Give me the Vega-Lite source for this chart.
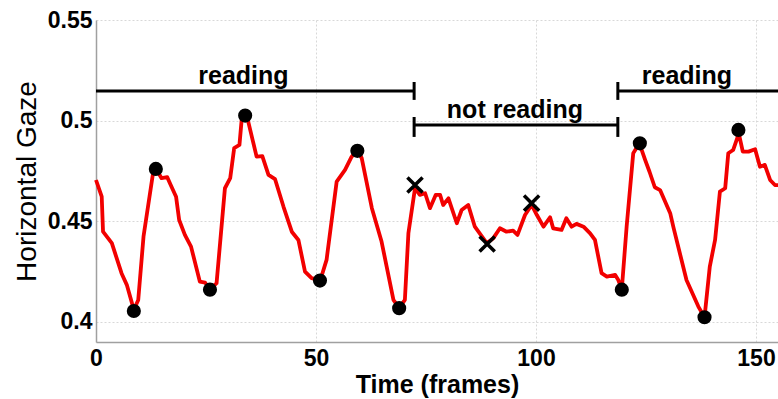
{
  "$schema": "https://vega.github.io/schema/vega-lite/v6.json",
  "width": 682,
  "height": 322,
  "autosize": {"type": "none"},
  "padding": {"left": 96, "top": 20, "right": 0, "bottom": 57},
  "background": "white",
  "config": {
    "font": "Liberation Sans",
    "view": {"stroke": null},
    "axis": {
      "domainColor": "#a0a0a0",
      "domainWidth": 1.5,
      "gridColor": "#d8d8d8",
      "gridDash": [2, 2],
      "gridWidth": 1,
      "ticks": false,
      "labelFont": "Liberation Sans",
      "labelFontWeight": "bold",
      "labelFontSize": 23,
      "labelColor": "#000",
      "titleFont": "Liberation Sans",
      "titleColor": "#000"
    }
  },
  "datasets": {
    "gaze": [
      {"f": 0, "v": 0.4705}, {"f": 1.3, "v": 0.4622}, {"f": 1.6, "v": 0.4448}, {"f": 3.6, "v": 0.4391},
      {"f": 5.8, "v": 0.4242}, {"f": 7.0, "v": 0.4184}, {"f": 8.6, "v": 0.406}, {"f": 9.6, "v": 0.4109},
      {"f": 10.8, "v": 0.4424}, {"f": 12.9, "v": 0.473}, {"f": 13.8, "v": 0.4755}, {"f": 14.9, "v": 0.4714},
      {"f": 16.2, "v": 0.4719}, {"f": 16.8, "v": 0.4689}, {"f": 18.2, "v": 0.4622}, {"f": 18.9, "v": 0.4506},
      {"f": 20.2, "v": 0.4432}, {"f": 21.6, "v": 0.4374}, {"f": 23.6, "v": 0.42}, {"f": 24.8, "v": 0.4195},
      {"f": 25.8, "v": 0.4159}, {"f": 27.4, "v": 0.4192}, {"f": 29.3, "v": 0.4664}, {"f": 30.5, "v": 0.4714},
      {"f": 31.4, "v": 0.4863}, {"f": 32.6, "v": 0.4879}, {"f": 33.1, "v": 0.5003}, {"f": 33.8, "v": 0.5028},
      {"f": 34.6, "v": 0.4995}, {"f": 36.5, "v": 0.4821}, {"f": 37.8, "v": 0.4824}, {"f": 39.2, "v": 0.473},
      {"f": 40.7, "v": 0.4709}, {"f": 42.6, "v": 0.4573}, {"f": 44.5, "v": 0.4448}, {"f": 46.0, "v": 0.4407},
      {"f": 47.5, "v": 0.425}, {"f": 49.0, "v": 0.4217}, {"f": 51.0, "v": 0.4208}, {"f": 52.4, "v": 0.4308},
      {"f": 54.7, "v": 0.4697}, {"f": 56.6, "v": 0.4755}, {"f": 58.1, "v": 0.4821}, {"f": 59.4, "v": 0.4854},
      {"f": 60.4, "v": 0.4813}, {"f": 62.7, "v": 0.4565}, {"f": 64.9, "v": 0.4399}, {"f": 67.6, "v": 0.4109},
      {"f": 68.9, "v": 0.4068}, {"f": 70.2, "v": 0.4109}, {"f": 71.0, "v": 0.444}, {"f": 72.5, "v": 0.4664},
      {"f": 73.6, "v": 0.4631}, {"f": 74.8, "v": 0.4639}, {"f": 75.9, "v": 0.4565}, {"f": 77.2, "v": 0.4631},
      {"f": 78.2, "v": 0.4631}, {"f": 78.9, "v": 0.4581}, {"f": 80.1, "v": 0.4614}, {"f": 82.0, "v": 0.449},
      {"f": 83.1, "v": 0.4556}, {"f": 84.6, "v": 0.4581}, {"f": 86.1, "v": 0.4473}, {"f": 88.8, "v": 0.4391},
      {"f": 90.3, "v": 0.4416}, {"f": 91.8, "v": 0.4465}, {"f": 93.3, "v": 0.4448}, {"f": 94.8, "v": 0.4453},
      {"f": 95.8, "v": 0.4432}, {"f": 97.5, "v": 0.4531}, {"f": 99.0, "v": 0.4581}, {"f": 100.2, "v": 0.4531},
      {"f": 101.7, "v": 0.4473}, {"f": 103.2, "v": 0.452}, {"f": 103.9, "v": 0.4465}, {"f": 105.8, "v": 0.4457},
      {"f": 106.9, "v": 0.4515}, {"f": 108.1, "v": 0.4473}, {"f": 109.2, "v": 0.4487}, {"f": 110.8, "v": 0.4473},
      {"f": 112.3, "v": 0.444}, {"f": 113.4, "v": 0.4407}, {"f": 114.9, "v": 0.4242}, {"f": 116.1, "v": 0.4225},
      {"f": 118.0, "v": 0.4233}, {"f": 118.7, "v": 0.4208}, {"f": 119.5, "v": 0.4162}, {"f": 120.6, "v": 0.4473},
      {"f": 122.1, "v": 0.4838}, {"f": 123.5, "v": 0.4887}, {"f": 124.8, "v": 0.4805}, {"f": 125.8, "v": 0.4746},
      {"f": 127.0, "v": 0.4669}, {"f": 128.2, "v": 0.4655}, {"f": 130.5, "v": 0.454}, {"f": 131.2, "v": 0.4473},
      {"f": 134.2, "v": 0.4208}, {"f": 136.9, "v": 0.4076}, {"f": 138.3, "v": 0.4023}, {"f": 139.5, "v": 0.4275},
      {"f": 140.7, "v": 0.4407}, {"f": 141.8, "v": 0.4647}, {"f": 143.0, "v": 0.4664}, {"f": 143.7, "v": 0.4838},
      {"f": 144.8, "v": 0.4854}, {"f": 145.8, "v": 0.4917}, {"f": 146.0, "v": 0.4945}, {"f": 147.0, "v": 0.4846},
      {"f": 148.3, "v": 0.4846}, {"f": 149.8, "v": 0.4858}, {"f": 150.9, "v": 0.4771}, {"f": 152.0, "v": 0.478},
      {"f": 153.2, "v": 0.4705}, {"f": 154.3, "v": 0.468}, {"f": 155.0, "v": 0.468}
    ],
    "dots": [
      {"f": 8.6, "v": 0.4054}, {"f": 13.6, "v": 0.476}, {"f": 25.9, "v": 0.416}, {"f": 33.9, "v": 0.5025},
      {"f": 50.9, "v": 0.4205}, {"f": 59.4, "v": 0.485}, {"f": 68.9, "v": 0.4068}, {"f": 119.5, "v": 0.416},
      {"f": 123.6, "v": 0.4887}, {"f": 138.3, "v": 0.4023}, {"f": 146.0, "v": 0.4954}
    ],
    "crosses": [
      {"f": 72.5, "v": 0.468}, {"f": 88.9, "v": 0.4387}, {"f": 99.0, "v": 0.459}
    ],
    "segments": [
      {"start": 0, "end": 72.3, "level": 0.5147, "label": "reading", "mid": 33.5, "ty": 0.5182},
      {"start": 72.3, "end": 118.6, "level": 0.4978, "label": "not reading", "mid": 95.2, "ty": 0.5013},
      {"start": 118.6, "end": 155, "level": 0.5147, "label": "reading", "mid": 134.3, "ty": 0.5182}
    ],
    "endticks": [
      {"f": 72.3, "top": 0.5192, "bottom": 0.5103},
      {"f": 72.3, "top": 0.5018, "bottom": 0.4919},
      {"f": 118.6, "top": 0.5192, "bottom": 0.5103},
      {"f": 118.6, "top": 0.5018, "bottom": 0.4919}
    ]
  },
  "layer": [
    {
      "data": {"name": "gaze"},
      "mark": {"type": "line", "color": "#f20000", "strokeWidth": 3.8, "strokeJoin": "round"},
      "encoding": {
        "x": {
          "field": "f", "type": "quantitative",
          "scale": {"domain": [0, 155], "nice": false, "zero": false},
          "axis": {
            "values": [0, 50, 100, 150],
            "title": "Time (frames)",
            "titleFontSize": 25,
            "titleFontWeight": "bold",
            "titlePadding": 2,
            "labelPadding": 5,
            "labelFlush": false
          }
        },
        "y": {
          "field": "v", "type": "quantitative",
          "scale": {"domain": [0.39, 0.55], "nice": false, "zero": false},
          "axis": {
            "values": [0.4, 0.45, 0.5, 0.55],
            "format": "~g",
            "title": "Horizontal Gaze",
            "titleFontSize": 28,
            "titleFontWeight": 500,
            "titlePadding": 6,
            "labelPadding": 4
          }
        }
      }
    },
    {
      "data": {"name": "dots"},
      "mark": {"type": "point", "shape": "circle", "filled": true, "color": "black", "opacity": 1, "size": 200},
      "encoding": {
        "x": {"field": "f", "type": "quantitative"},
        "y": {"field": "v", "type": "quantitative"}
      }
    },
    {
      "data": {"name": "crosses"},
      "mark": {"type": "point", "shape": "M-1,-1L1,1M-1,1L1,-1", "filled": false, "color": "black", "opacity": 1, "strokeWidth": 3.5, "size": 230},
      "encoding": {
        "x": {"field": "f", "type": "quantitative"},
        "y": {"field": "v", "type": "quantitative"}
      }
    },
    {
      "data": {"name": "segments"},
      "mark": {"type": "rule", "color": "black", "strokeWidth": 3},
      "encoding": {
        "x": {"field": "start", "type": "quantitative"},
        "x2": {"field": "end"},
        "y": {"field": "level", "type": "quantitative"}
      }
    },
    {
      "data": {"name": "endticks"},
      "mark": {"type": "rule", "color": "black", "strokeWidth": 3},
      "encoding": {
        "x": {"field": "f", "type": "quantitative"},
        "y": {"field": "top", "type": "quantitative"},
        "y2": {"field": "bottom"}
      }
    },
    {
      "data": {"name": "segments"},
      "mark": {"type": "text", "font": "Liberation Sans", "fontWeight": "bold", "fontSize": 25, "color": "black", "baseline": "alphabetic", "align": "center"},
      "encoding": {
        "x": {"field": "mid", "type": "quantitative"},
        "y": {"field": "ty", "type": "quantitative"},
        "text": {"field": "label"}
      }
    }
  ]
}
